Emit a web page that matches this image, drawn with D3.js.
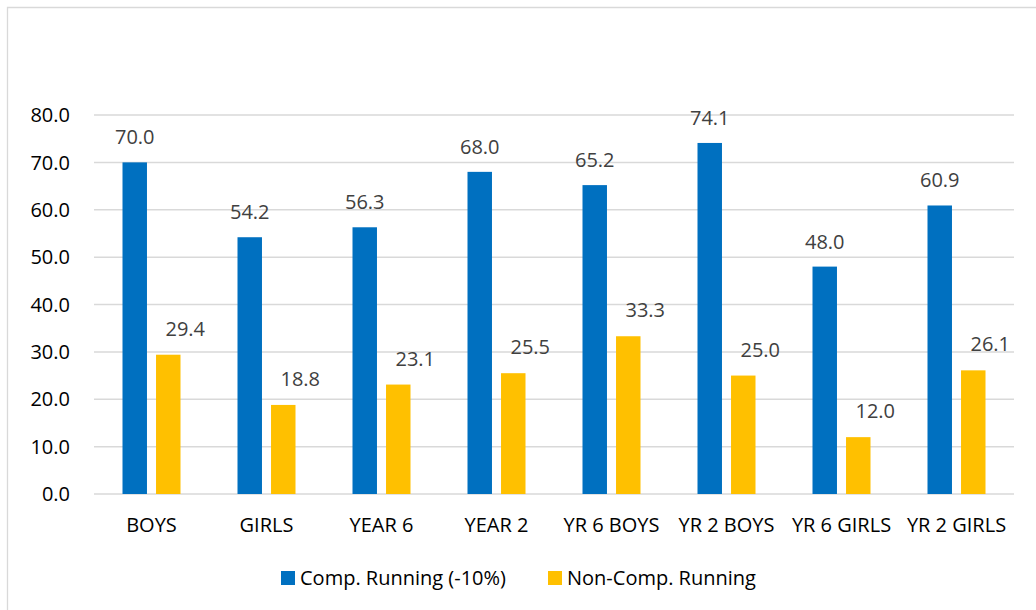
<!DOCTYPE html>
<html>
<head>
<meta charset="utf-8">
<script src="https://cdn.jsdelivr.net/npm/d3@7"></script>
<style>
  body { margin: 0; background: #fff; }
  svg { font-family: "Open Sans", "Noto Sans", sans-serif; }
</style>
</head>
<body>
<svg id="chart" width="1036" height="610"></svg>
<script>
// chart data
var categories = ["BOYS", "GIRLS", "YEAR 6", "YEAR 2", "YR 6 BOYS", "YR 2 BOYS", "YR 6 GIRLS", "YR 2 GIRLS"];
var compRunning = [70.0, 54.2, 56.3, 68.0, 65.2, 74.1, 48.0, 60.9];
var nonCompRunning = [29.4, 18.8, 23.1, 25.5, 33.3, 25.0, 12.0, 26.1];
var seriesNames = ["Comp. Running (-10%)", "Non-Comp. Running"];
var yTicks = [0, 10, 20, 30, 40, 50, 60, 70, 80];

var colors = ["#0070C0", "#FFC000"];
// data label nudges per series (second series labels sit up and to the right)
var labelDx = [0, 17];
var labelDy = [-18, -19];

var margin = {top: 115, right: 22, bottom: 116, left: 94};
var width = 1036 - margin.left - margin.right,
    height = 610 - margin.top - margin.bottom;

var svg = d3.select("#chart");

// outer chart frame (cropped at right/bottom)
svg.append("path")
  .attr("d", "M7.5,610 L7.5,7.5 L1036,7.5")
  .attr("fill", "none")
  .attr("stroke", "#d9d9d9")
  .attr("stroke-width", 1.3);

var g = svg.append("g").attr("transform", `translate(${margin.left},${margin.top})`);

var xScale = d3.scaleBand().domain(categories).range([0, width]);
var xInner = d3.scaleBand().domain([0, 1]).range([0, 58]).paddingInner(0.27);
var yScale = d3.scaleLinear().domain([0, 80]).range([height, 0]);

// gridlines
g.selectAll("line.grid")
  .data(yTicks)
  .join("line")
  .attr("class", "grid")
  .attr("x1", 0).attr("x2", width)
  .attr("y1", d => yScale(d)).attr("y2", d => yScale(d))
  .attr("stroke", "#d9d9d9")
  .attr("stroke-width", 1.5);

// y labels
g.selectAll("text.ytick")
  .data(yTicks)
  .join("text")
  .attr("class", "ytick")
  .attr("x", -24)
  .attr("y", d => yScale(d))
  .attr("dy", "0.36em")
  .attr("text-anchor", "end")
  .attr("font-size", "20px")
  .attr("fill", "#000")
  .text(d => d.toFixed(1));

// x labels
g.selectAll("text.xtick")
  .data(categories)
  .join("text")
  .attr("class", "xtick")
  .attr("x", d => xScale(d) + xScale.bandwidth() / 2)
  .attr("y", height + 38)
  .attr("text-anchor", "middle")
  .attr("font-size", "20px")
  .attr("fill", "#000")
  .text(d => d);

// bars
var rows = categories.map((c, i) => ({cat: c, vals: [compRunning[i], nonCompRunning[i]]}));

var groups = g.selectAll("g.grp")
  .data(rows)
  .join("g")
  .attr("class", "grp")
  .attr("transform", d => `translate(${xScale(d.cat) + xScale.bandwidth() / 2 - 29},0)`);

groups.selectAll("rect")
  .data(d => d.vals.map((v, k) => ({k: k, v: v})))
  .join("rect")
  .attr("x", d => xInner(d.k))
  .attr("y", d => yScale(d.v))
  .attr("width", xInner.bandwidth())
  .attr("height", d => height - yScale(d.v))
  .attr("fill", d => colors[d.k]);

groups.selectAll("text")
  .data(d => d.vals.map((v, k) => ({k: k, v: v})))
  .join("text")
  .attr("x", d => xInner(d.k) + xInner.bandwidth() / 2 + labelDx[d.k])
  .attr("y", d => yScale(d.v) + labelDy[d.k])
  .attr("text-anchor", "middle")
  .attr("font-size", "20px")
  .attr("fill", "#404040")
  .text(d => d.v.toFixed(1));

// legend
var legendX = [281, 548];
var legend = svg.append("g").attr("class", "legend");
legend.selectAll("rect")
  .data(seriesNames)
  .join("rect")
  .attr("x", (d, i) => legendX[i])
  .attr("y", 571)
  .attr("width", 14)
  .attr("height", 14)
  .attr("fill", (d, i) => colors[i]);
legend.selectAll("text")
  .data(seriesNames)
  .join("text")
  .attr("x", (d, i) => legendX[i] + 19)
  .attr("y", 578)
  .attr("dy", "0.36em")
  .attr("font-size", "20px")
  .attr("fill", "#000")
  .text(d => d);
</script>
</body>
</html>
